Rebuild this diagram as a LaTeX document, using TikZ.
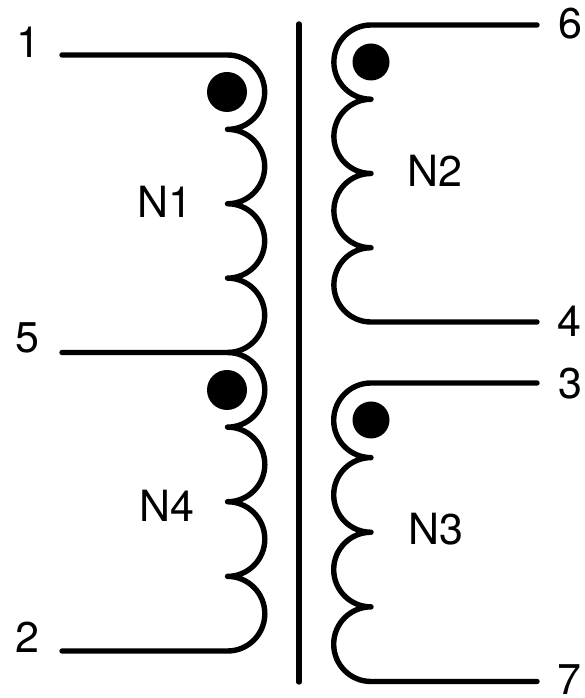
\documentclass[tikz,border=0pt]{standalone}
\usepackage{fontspec}
\setmainfont{TeX Gyre Heros}
\tikzset{
  wire/.style={line width=5.4pt,line cap=round,line join=round,black},
  dotmark/.style={circle,fill=black,draw=none,inner sep=0pt},
  lbl/.style={font=\fontsize{43}{43}\selectfont,inner sep=0pt,text=black}
}
\begin{document}
\begin{tikzpicture}[x=1pt,y=1pt]
\useasboundingbox (0,0) rectangle (585,698);
% terminals
\coordinate (t1) at (62,643);
\coordinate (c1) at (227.5,643);
\coordinate (t5) at (62,345.5);
\coordinate (c5) at (227.5,345.5);
\coordinate (t2) at (62,47);
\coordinate (c2) at (227.5,47);
\coordinate (t6) at (537,673);
\coordinate (c6) at (371,673);
\coordinate (t4) at (537,376);
\coordinate (c4) at (371,376);
\coordinate (t3) at (537,315);
\coordinate (c3) at (371,315);
\coordinate (t7) at (537,16.5);
\coordinate (c7) at (371,16.5);
\coordinate (coreT) at (299,674);
\coordinate (coreB) at (299,16);
% core
\draw[wire] (coreT) -- (coreB);
% windings
\draw[wire] (t1) -- (c1)
  arc[start angle=90,end angle=-90,radius=37.1875pt]
  arc[start angle=90,end angle=-90,radius=37.1875pt]
  arc[start angle=90,end angle=-90,radius=37.1875pt]
  arc[start angle=90,end angle=-90,radius=37.1875pt] -- (t5);
\draw[wire] (c5)
  arc[start angle=90,end angle=-90,radius=37.3125pt]
  arc[start angle=90,end angle=-90,radius=37.3125pt]
  arc[start angle=90,end angle=-90,radius=37.3125pt]
  arc[start angle=90,end angle=-90,radius=37.3125pt] -- (t2);
\draw[wire] (t6) -- (c6)
  arc[start angle=90,end angle=270,radius=37.125pt]
  arc[start angle=90,end angle=270,radius=37.125pt]
  arc[start angle=90,end angle=270,radius=37.125pt]
  arc[start angle=90,end angle=270,radius=37.125pt] -- (t4);
\draw[wire] (t3) -- (c3)
  arc[start angle=90,end angle=270,radius=37.3125pt]
  arc[start angle=90,end angle=270,radius=37.3125pt]
  arc[start angle=90,end angle=270,radius=37.3125pt]
  arc[start angle=90,end angle=270,radius=37.3125pt] -- (t7);
% polarity dots
\node[dotmark,minimum size=40pt] (d1) at (227,606) {};
\node[dotmark,minimum size=40pt] (d4) at (227,308) {};
\node[dotmark,minimum size=37pt] (d2) at (371,636) {};
\node[dotmark,minimum size=37pt] (d3) at (371,278) {};
% labels
\node[lbl] (l1) at (28,656) {1};
\node[lbl] (l5) at (27,360) {5};
\node[lbl] (l2) at (27,61) {2};
\node[lbl] (l6) at (570,674.5) {6};
\node[lbl] (l4) at (569,376.5) {4};
\node[lbl] (l3) at (570,314.5) {3};
\node[lbl] (l7) at (569.5,18) {7};
\node[lbl] (n1) at (165,496.5) {N1};
\node[lbl] (n4) at (167,192.5) {N4};
\node[lbl] (n2) at (435,527.5) {N2};
\node[lbl] (n3) at (435.5,168.5) {N3};
\end{tikzpicture}
\end{document}
